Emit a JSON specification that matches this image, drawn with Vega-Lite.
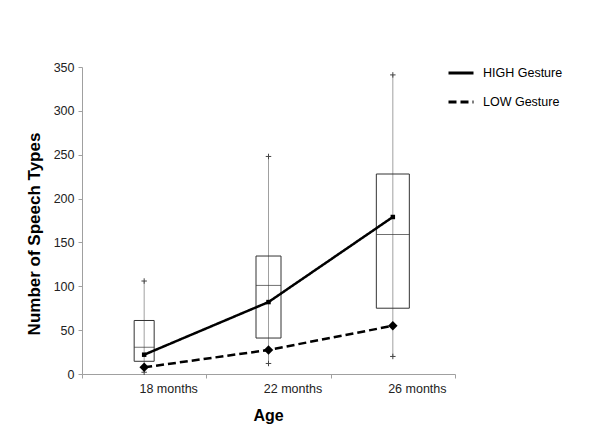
{
  "$schema": "https://vega.github.io/schema/vega-lite/v6.json",
  "autosize": "none",
  "width": 373,
  "height": 307,
  "padding": {"left": 82, "top": 67, "right": 146, "bottom": 63},
  "background": "white",
  "config": {
    "font": "Liberation Sans",
    "view": {"stroke": null},
    "axis": {"domainColor": "#a0a0a0", "tickColor": "#a0a0a0", "labelColor": "#222", "labelFont": "Liberation Sans", "titleFont": "Liberation Sans", "grid": false}
  },
  "datasets": {
    "boxes": [
      {"age": "18 months", "lo": 2, "q1": 14.5, "median": 30.5, "q3": 61, "hi": 106},
      {"age": "22 months", "lo": 12, "q1": 41, "median": 101, "q3": 134.5, "hi": 248},
      {"age": "26 months", "lo": 20, "q1": 75, "median": 159, "q3": 228, "hi": 341}
    ],
    "means": [
      {"age": "18 months", "group": "HIGH Gesture", "value": 22},
      {"age": "22 months", "group": "HIGH Gesture", "value": 82},
      {"age": "26 months", "group": "HIGH Gesture", "value": 179},
      {"age": "18 months", "group": "LOW Gesture", "value": 7.6},
      {"age": "22 months", "group": "LOW Gesture", "value": 27.4},
      {"age": "26 months", "group": "LOW Gesture", "value": 55}
    ]
  },
  "encoding": {
    "x": {
      "field": "age", "type": "nominal", "sort": ["18 months", "22 months", "26 months"],
      "scale": {"type": "band", "paddingInner": 0, "paddingOuter": 0},
      "axis": {"title": "Age", "labelAngle": 0, "labelFontSize": 12.5, "labelOffset": 24, "tickBand": "extent", "tickSize": 4, "labelPadding": 4,
               "titleFontSize": 16, "titleFontWeight": "bold", "titleColor": "black", "titleX": 186, "titleY": 46, "titleBaseline": "alphabetic"}
    }
  },
  "layer": [
    {
      "data": {"name": "boxes"},
      "mark": {"type": "rule", "color": "#a0a0a0", "strokeWidth": 1},
      "encoding": {
        "y": {"field": "lo", "type": "quantitative", "scale": {"domain": [0, 350]},
              "axis": {"title": "Number of Speech Types", "values": [0, 50, 100, 150, 200, 250, 300, 350], "labelFontSize": 12.5, "tickSize": 4, "labelPadding": 4,
                       "titleFontSize": 17, "titleFontWeight": "bold", "titleColor": "black", "titleAngle": -90, "titleX": -48, "titleY": 166.5, "titleBaseline": "middle", "titleAlign": "center"}},
        "y2": {"field": "hi"}
      }
    },
    {
      "data": {"name": "boxes"},
      "mark": {"type": "point", "shape": "M-1,0H1M0,-1V1", "filled": false, "stroke": "#444", "strokeWidth": 1, "size": 30, "opacity": 1},
      "encoding": {"y": {"field": "lo", "type": "quantitative"}}
    },
    {
      "data": {"name": "boxes"},
      "mark": {"type": "point", "shape": "M-1,0H1M0,-1V1", "filled": false, "stroke": "#444", "strokeWidth": 1, "size": 30, "opacity": 1},
      "encoding": {"y": {"field": "hi", "type": "quantitative"}}
    },
    {
      "data": {"name": "boxes"},
      "mark": {"type": "bar", "fill": null, "fillOpacity": 0, "stroke": "#333", "strokeWidth": 1},
      "encoding": {
        "y": {"field": "q1", "type": "quantitative"},
        "y2": {"field": "q3"},
        "size": {"condition": [{"test": "datum.age === '18 months'", "value": 20}, {"test": "datum.age === '22 months'", "value": 25}], "value": 33}
      }
    },
    {
      "data": {"name": "boxes"},
      "mark": {"type": "tick", "color": "#333", "thickness": 1},
      "encoding": {
        "y": {"field": "median", "type": "quantitative"},
        "size": {"condition": [{"test": "datum.age === '18 months'", "value": 20}, {"test": "datum.age === '22 months'", "value": 25}], "value": 33}
      }
    },
    {
      "data": {"name": "means"},
      "mark": {"type": "line", "color": "black", "strokeWidth": 2.5},
      "encoding": {
        "y": {"field": "value", "type": "quantitative"},
        "strokeDash": {"field": "group", "type": "nominal",
          "scale": {"domain": ["HIGH Gesture", "LOW Gesture"], "range": [[1, 0], [8, 4]]},
          "legend": {"title": null, "orient": "none", "legendX": 365, "legendY": -8, "symbolType": "stroke", "symbolSize": 625, "symbolStrokeWidth": 3, "symbolStrokeColor": "black",
                     "labelFontSize": 12.5, "labelColor": "black", "labelOffset": 8, "rowPadding": 8, "padding": 0}}
      }
    },
    {
      "data": {"name": "means"},
      "mark": {"type": "point", "filled": true, "color": "black", "opacity": 1},
      "encoding": {
        "y": {"field": "value", "type": "quantitative"},
        "shape": {"condition": {"test": "datum.group === 'HIGH Gesture'", "value": "square"}, "value": "diamond"},
        "size": {"condition": {"test": "datum.group === 'HIGH Gesture'", "value": 20}, "value": 90}
      }
    }
  ]
}
